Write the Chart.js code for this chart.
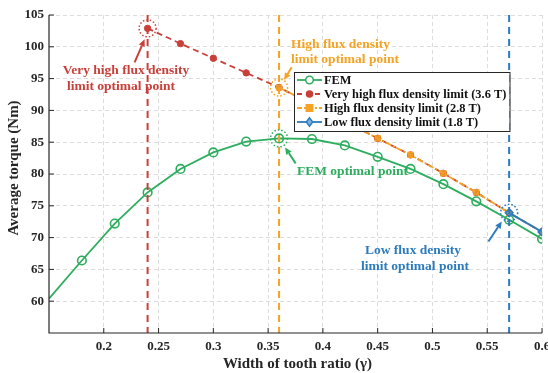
<!DOCTYPE html>
<html><head><meta charset="utf-8">
<script src="https://cdn.jsdelivr.net/npm/chart.js@4.4.0/dist/chart.umd.min.js"></script>
<style>html,body{margin:0;padding:0;background:#fff;overflow:hidden}#wrap{width:548px;height:373px;position:relative}</style>
</head><body><div id="wrap"><canvas id="c" width="548" height="373"></canvas></div>
<script>
// ---- data ----
const xFem = [0.15,0.18,0.21,0.24,0.27,0.30,0.33,0.36,0.39,0.42,0.45,0.48,0.51,0.54,0.57,0.60];
const femTorque = [60.4,66.4,72.2,77.1,80.8,83.4,85.1,85.6,85.5,84.5,82.7,80.8,78.4,75.7,72.8,69.8];
const xVeryHigh = [0.24,0.27,0.30,0.33,0.36,0.39,0.42,0.45,0.48,0.51,0.54,0.57,0.60];
const veryHighTorque = [102.9,100.5,98.2,95.9,93.6,91.0,88.3,85.6,83.0,80.1,77.1,73.9,70.9];
const xHigh = [0.36,0.39,0.42,0.45,0.48,0.51,0.54,0.57,0.60];
const highTorque = [93.6,91.0,88.3,85.6,83.0,80.1,77.1,73.9,70.9];
const xLow = [0.57,0.60];
const lowTorque = [73.9,70.9];
const xTicks = [0.2,0.25,0.3,0.35,0.4,0.45,0.5,0.55,0.6];
const xTickLabels = ['0.2','0.25','0.3','0.35','0.4','0.45','0.5','0.55','0.6'];
const yTicks = [60,65,70,75,80,85,90,95,100,105];
const seriesLabels = ['FEM','Very high flux density limit (3.6 T)','High flux density limit (2.8 T)','Low flux density limit (1.8 T)'];
const optimalLines = [0.24, 0.36, 0.57];
// ---- styles ----
const GREEN='#2EAD5F', RED='#C8403A', ORANGE='#F5A324', BLUE='#2C7BBB';
const FONT="'Liberation Serif','Times New Roman',serif";
const AX='#262626';

const pts=(xs,ys)=>xs.map((x,i)=>({x:x,y:ys[i]}));

function drawMarker(ctx,style,x,y,r,fill,stroke,lw){
  ctx.save();ctx.setLineDash([]);ctx.lineWidth=lw;ctx.strokeStyle=stroke;ctx.fillStyle=fill;
  ctx.beginPath();
  if(style==='circle'){ctx.arc(x,y,r,0,Math.PI*2);}
  else if(style==='rect'){ctx.rect(x-r,y-r,2*r,2*r);}
  else if(style==='rectRot'){ctx.moveTo(x,y-r*1.3);ctx.lineTo(x+r,y);ctx.lineTo(x,y+r*1.3);ctx.lineTo(x-r,y);ctx.closePath();}
  if(fill)ctx.fill();ctx.stroke();ctx.restore();
}
function arrow(ctx,x1,y1,x2,y2,color){
  ctx.save();ctx.strokeStyle=color;ctx.fillStyle=color;ctx.lineWidth=2;ctx.setLineDash([]);
  const a=Math.atan2(y2-y1,x2-x1),L=7,W=3.2;
  const bx=x2-L*Math.cos(a),by=y2-L*Math.sin(a);
  ctx.beginPath();ctx.moveTo(x1,y1);ctx.lineTo(bx,by);ctx.stroke();
  ctx.beginPath();ctx.moveTo(x2,y2);
  ctx.lineTo(bx+W*Math.sin(a),by-W*Math.cos(a));
  ctx.lineTo(bx-W*Math.sin(a),by+W*Math.cos(a));ctx.closePath();ctx.fill();
  ctx.restore();
}

const decor={
  id:'decor',
  afterDatasetsDraw(chart){
    const ctx=chart.ctx,xs=chart.scales.x,ys=chart.scales.y,ca=chart.chartArea;
    const px=v=>xs.getPixelForValue(v),py=v=>ys.getPixelForValue(v);
    // vertical optimal lines
    const vcols=[RED,ORANGE,BLUE];
    ctx.save();ctx.lineWidth=2;ctx.setLineDash([7,5]);
    optimalLines.forEach((v,i)=>{ctx.strokeStyle=vcols[i];ctx.beginPath();ctx.moveTo(px(v),ca.top);ctx.lineTo(px(v),ca.bottom);ctx.stroke();});
    ctx.restore();
    // dotted circles at optimal points
    const circ=[[xVeryHigh[0],veryHighTorque[0],RED],[xHigh[0],highTorque[0],ORANGE],[xFem[7],femTorque[7],GREEN],[xLow[0],lowTorque[0],BLUE]];
    ctx.save();ctx.lineWidth=1.5;ctx.setLineDash([1.5,2]);
    circ.forEach(c=>{ctx.strokeStyle=c[2];ctx.beginPath();ctx.arc(px(c[0]),py(c[1]),8.5,0,Math.PI*2);ctx.stroke();});
    ctx.restore();
    // arrows (offsets relative to anchor points)
    const rp=[px(xVeryHigh[0]),py(veryHighTorque[0])];
    arrow(ctx,rp[0]-13,rp[1]+34,rp[0]-3,rp[1]+11,RED);
    const op=[px(xHigh[0]),py(highTorque[0])];
    arrow(ctx,op[0]+12.6,op[1]-20.3,op[0]+5,op[1]-7.6,ORANGE);
    const gp=[px(xFem[7]),py(femTorque[7])];
    arrow(ctx,gp[0]+16.6,gp[1]+25,gp[0]+6,gp[1]+9,GREEN);
    const bp=[px(xLow[0]),py(lowTorque[0])];
    arrow(ctx,bp[0]-20.7,bp[1]+28.7,bp[0]-7.3,bp[1]+8.7,BLUE);
    // annotation texts
    ctx.save();ctx.font='bold 13.5px '+FONT;ctx.textBaseline='middle';
    ctx.fillStyle=RED;ctx.textAlign='center';
    ctx.fillText('Very high flux density',126,71);ctx.fillText('limit optimal point',121,87);
    ctx.fillStyle=ORANGE;ctx.textAlign='left';
    ctx.fillText('High flux density',291,45);ctx.fillText('limit optimal point',291,60);
    ctx.fillStyle=GREEN;ctx.fillText('FEM optimal point',297,172);
    ctx.fillStyle=BLUE;ctx.textAlign='center';
    ctx.fillText('Low flux density',413,251);ctx.fillText('limit optimal point',415,267);
    ctx.restore();
    // legend
    const lx=294,ly=72,lw=215.5,lh=59;
    ctx.save();ctx.fillStyle='#fff';ctx.fillRect(lx,ly,lw,lh);
    ctx.strokeStyle=AX;ctx.lineWidth=1;ctx.strokeRect(lx+0.5,ly+0.5,lw,lh);
    const items=[
      {c:GREEN,d:[],m:'circle',r:3.8,f:'#fff'},
      {c:RED,d:[5,4],m:'circle',r:3,f:RED},
      {c:ORANGE,d:[5,2,2,2],m:'rect',r:3.2,f:ORANGE},
      {c:BLUE,d:[],m:'rectRot',r:3.2,f:'#7fb2e0'}];
    ctx.font='bold 12.4px '+FONT;ctx.textBaseline='middle';ctx.textAlign='left';
    items.forEach((it,i)=>{
      const y=80+i*14;
      ctx.strokeStyle=it.c;ctx.lineWidth=1.8;ctx.setLineDash(it.d);
      ctx.beginPath();ctx.moveTo(297,y);ctx.lineTo(322,y);ctx.stroke();ctx.setLineDash([]);
      drawMarker(ctx,it.m,309.5,y,it.r,it.f,it.c,1.5);
      ctx.fillStyle='#111';ctx.fillText(seriesLabels[i],324,y+0.5);
    });
    ctx.restore();
    // axes lines, ticks, labels
    ctx.save();ctx.strokeStyle=AX;ctx.lineWidth=1.2;ctx.setLineDash([]);
    ctx.beginPath();ctx.moveTo(ca.left,ca.top);ctx.lineTo(ca.left,ca.bottom);ctx.lineTo(ca.right,ca.bottom);ctx.stroke();
    ctx.lineWidth=1;
    ctx.fillStyle=AX;ctx.font='bold 13px '+FONT;
    ctx.textAlign='right';ctx.textBaseline='middle';
    yTicks.forEach(v=>{const y=py(v);ctx.beginPath();ctx.moveTo(ca.left,y);ctx.lineTo(ca.left+5,y);ctx.stroke();ctx.fillText(String(v),ca.left-5,y);});
    ctx.textAlign='center';ctx.textBaseline='middle';
    xTicks.forEach((v,i)=>{const x=px(v);ctx.beginPath();ctx.moveTo(x,ca.bottom);ctx.lineTo(x,ca.bottom-5);ctx.stroke();ctx.fillText(xTickLabels[i],x,ca.bottom+14);});
    ctx.font='bold 15px '+FONT;
    ctx.fillText('Width of tooth ratio (\u03B3)',(ca.left+ca.right)/2+2,ca.bottom+31);
    ctx.translate(14,168);ctx.rotate(-Math.PI/2);
    ctx.fillText('Average torque (Nm)',0,0);
    ctx.restore();
  }
};

new Chart(document.getElementById('c'),{
  type:'line',
  data:{datasets:[
    {label:seriesLabels[0],data:pts(xFem,femTorque),borderColor:GREEN,borderWidth:1.8,pointStyle:'circle',
     pointRadius:c=>c.dataIndex===0?0:4.3,pointBorderWidth:1.6,pointBackgroundColor:'rgba(0,0,0,0)',pointBorderColor:GREEN,order:3},
    {label:seriesLabels[1],data:pts(xVeryHigh,veryHighTorque),borderColor:RED,borderWidth:1.8,borderDash:[6,4],pointStyle:'circle',
     pointRadius:3.2,pointBorderWidth:1,pointBackgroundColor:RED,pointBorderColor:RED,order:2},
    {label:seriesLabels[2],data:pts(xHigh,highTorque),borderColor:ORANGE,borderWidth:1.8,borderDash:[6,2,2,2],pointStyle:'rect',
     pointRadius:3.5,pointBorderWidth:1.2,pointBackgroundColor:'rgba(245,163,36,0.75)',pointBorderColor:ORANGE,order:1},
    {label:seriesLabels[3],data:pts(xLow,lowTorque),borderColor:BLUE,borderWidth:2,pointStyle:'rectRot',
     pointRadius:3.8,pointBorderWidth:1.5,pointBackgroundColor:'rgba(80,140,200,0.6)',pointBorderColor:BLUE,order:0}
  ]},
  options:{
    responsive:false,animation:false,devicePixelRatio:1,
    layout:{padding:{left:49,right:6,top:15,bottom:40}},
    plugins:{legend:{display:false},tooltip:{enabled:false}},
    elements:{line:{tension:0,fill:false}},
    scales:{
      x:{type:'linear',min:0.15,max:0.6,
         afterBuildTicks:s=>{s.ticks=xTicks.map(v=>({value:v}));},
         ticks:{display:false},grid:{color:'#dcdcdc',lineWidth:1,drawTicks:false},border:{display:false,dash:[4,3]}},
      y:{type:'linear',min:55,max:105,
         afterBuildTicks:s=>{s.ticks=yTicks.map(v=>({value:v}));},
         ticks:{display:false},grid:{color:'#dcdcdc',lineWidth:1,drawTicks:false},border:{display:false,dash:[4,3]}}
    }
  },
  plugins:[decor]
});
</script></body></html>
